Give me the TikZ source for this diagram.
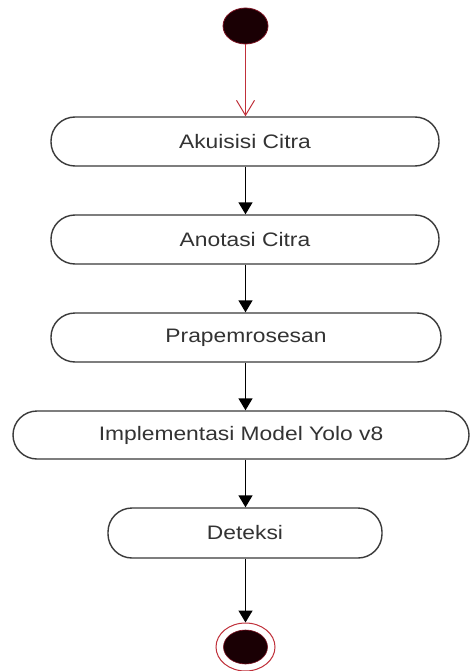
\documentclass[tikz,border=0pt]{standalone}
\usepackage{fontspec}
\newfontfamily\labfont[FakeStretch=1.17]{Liberation Sans}
\usetikzlibrary{arrows.meta,shapes.geometric}
\definecolor{boxline}{HTML}{3A3A3A}
\definecolor{txtgray}{HTML}{333333}
\definecolor{startfill}{HTML}{1A0004}
\definecolor{startline}{HTML}{7A1020}
\definecolor{redline}{HTML}{C0303A}
\begin{document}
\begin{tikzpicture}[x=1pt,y=-1pt,
  act/.style={draw=boxline, line width=1.4pt, fill=white, rectangle,
    rounded corners=24pt, inner sep=0pt, text=txtgray,
    font=\labfont\fontsize{19.5}{22}\selectfont},
  flow/.style={draw=black, line width=1.5pt, -{Triangle[length=12pt,width=14pt]}},
  startarrow/.style={draw=redline, line width=1pt, -{Straight Barb[length=15pt,width=18pt,line width=1pt]}},
  initnode/.style={ellipse, fill=startfill, draw=startline, line width=0.8pt,
    minimum width=45pt, minimum height=36pt, inner sep=0pt},
  finalouter/.style={ellipse, fill=white, draw=redline, line width=1pt,
    minimum width=59pt, minimum height=48pt, inner sep=0pt},
  finalinner/.style={ellipse, fill=startfill, draw=startline, line width=0.6pt,
    minimum width=44pt, minimum height=34pt, inner sep=0pt}
]
\useasboundingbox (0,0) rectangle (470,671);
\fill[white] (0,0) rectangle (470,671);

\node[initnode] (start) at (245.5,26) {};
\node[act, minimum width=388pt, minimum height=49pt] (b1) at (245,141.5) {Akuisisi Citra};
\node[act, minimum width=388pt, minimum height=49pt] (b2) at (245,239.5) {Anotasi Citra};
\node[act, minimum width=390pt, minimum height=49pt] (b3) at (246,337.5) {Prapemrosesan};
\node[act, minimum width=456pt, minimum height=48pt] (b4) at (241,435) {Implementasi Model Yolo v8};
\node[act, minimum width=274pt, minimum height=50pt] (b5) at (245,533) {Deteksi};
\node[finalouter] (end) at (245.5,647) {};
\node[finalinner] (endin) at (end.center) {};

\draw[startarrow] (start.south) -- (start.south |- b1.north);
\draw[flow] (b1.south -| start.south) -- (start.south |- b2.north);
\draw[flow] (b2.south -| start.south) -- (start.south |- b3.north);
\draw[flow] (b3.south -| start.south) -- (start.south |- b4.north);
\draw[flow] (b4.south -| start.south) -- (start.south |- b5.north);
\draw[flow] (b5.south -| start.south) -- (end.north);
\end{tikzpicture}
\end{document}
